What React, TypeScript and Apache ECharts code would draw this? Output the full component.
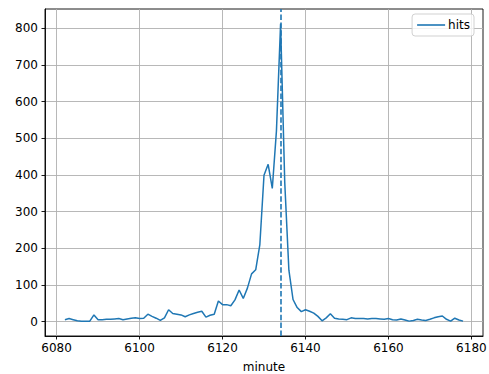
import React, { useEffect, useRef } from "react";
import * as echarts from "echarts";

const minutes = [
  6082, 6083, 6084, 6085, 6086, 6087, 6088, 6089, 6090, 6091, 6092, 6093, 6094, 6095, 6096, 6097, 6098, 6099,
  6100, 6101, 6102, 6103, 6104, 6105, 6106, 6107, 6108, 6109, 6110, 6111, 6112, 6113, 6114, 6115, 6116, 6117,
  6118, 6119, 6120, 6121, 6122, 6123, 6124, 6125, 6126, 6127, 6128, 6129, 6130, 6131, 6132, 6133, 6134, 6135,
  6136, 6137, 6138, 6139, 6140, 6141, 6142, 6143, 6144, 6145, 6146, 6147, 6148, 6149, 6150, 6151, 6152, 6153,
  6154, 6155, 6156, 6157, 6158, 6159, 6160, 6161, 6162, 6163, 6164, 6165, 6166, 6167, 6168, 6169, 6170, 6171,
  6172, 6173, 6174, 6175, 6176, 6177, 6178,
];

const hits = [
  5, 8, 5, 2, 1, 1, 1, 18, 5, 5, 6, 6, 7, 8, 5, 7, 9, 10,
  8, 9, 20, 14, 9, 3, 10, 32, 22, 20, 18, 13, 18, 22, 25, 28, 12, 17,
  20, 56, 46, 46, 43, 59, 86, 63, 91, 130, 141, 210, 399, 429, 363, 520, 812, 380,
  140, 60, 38, 27, 32, 28, 23, 14, 2, 10, 21, 9, 7, 6, 5, 10, 8, 8,
  8, 7, 8, 8, 7, 6, 8, 5, 4, 7, 4, 1, 3, 6, 4, 3, 6, 10,
  13, 15, 6, 1, 9, 4, 1,
];

const xTicks = [6080, 6100, 6120, 6140, 6160, 6180];
const yTicks = [0, 100, 200, 300, 400, 500, 600, 700, 800];
const markerMinute = 6134;
const seriesName = "hits";
const xLabel = "minute";

export default function App() {
  const ref = useRef<HTMLDivElement>(null);

  useEffect(() => {
    if (!ref.current) return;
    const chart = echarts.init(ref.current, undefined, { renderer: "svg" });
    const xmin0 = Math.min(...minutes);
    const xmax0 = Math.max(...minutes);
    const ymin0 = Math.min(...hits);
    const ymax0 = Math.max(...hits);
    const xm = (xmax0 - xmin0) * 0.05;
    const ym = (ymax0 - ymin0) * 0.05;
    const font = "DejaVu Sans";
    const blue = "#1f77b4";
    const fs = 12;

    chart.setOption({
      animation: false,
      textStyle: { fontFamily: font },
      grid: {
        left: 45,
        right: 6,
        top: 9,
        bottom: 38,
        containLabel: false,
        outerBoundsMode: "none",
        show: true,
        borderColor: "#000",
        borderWidth: 0.9,
        backgroundColor: "transparent",
      },
      legend: {
        right: 15,
        top: 14,
        data: [{ name: seriesName, icon: "rect" }],
        itemWidth: 28,
        itemHeight: 1.6,
        itemGap: 8,
        padding: [5, 4, 5, 5],
        borderColor: "#cccccc",
        borderWidth: 0.9,
        borderRadius: 3,
        backgroundColor: "rgba(255,255,255,0.8)",
        textStyle: { fontFamily: font, fontSize: fs, color: "#000", padding: [0, 0, 0, -2] },
      },
      xAxis: {
        type: "value",
        min: xmin0 - xm,
        max: xmax0 + xm,
        name: xLabel,
        nameLocation: "middle",
        nameGap: 25,
        nameTextStyle: { fontFamily: font, fontSize: fs, color: "#000" },
        axisLine: { show: true, onZero: false, lineStyle: { color: "#000", width: 0.9 } },
        axisTick: { show: true, length: 3.5, inside: false, customValues: xTicks, lineStyle: { color: "#000", width: 0.9 } },
        axisLabel: {
          customValues: xTicks,
          margin: 6,
          fontFamily: font,
          fontSize: fs,
          color: "#000",
          formatter: (v: number) => String(v),
        },
        splitLine: { show: true, lineStyle: { color: "#b0b0b0", width: 0.9 } },
      },
      yAxis: {
        type: "value",
        min: ymin0 - ym,
        max: ymax0 + ym,
        axisLine: { show: true, onZero: false, lineStyle: { color: "#000", width: 0.9 } },
        axisTick: { show: true, length: 3.5, inside: false, customValues: yTicks, lineStyle: { color: "#000", width: 0.9 } },
        axisLabel: {
          customValues: yTicks,
          margin: 7,
          fontFamily: font,
          fontSize: fs,
          color: "#000",
          formatter: (v: number) => String(v),
        },
        splitLine: { show: true, lineStyle: { color: "#b0b0b0", width: 0.9 } },
      },
      series: [
        {
          name: seriesName,
          type: "line",
          data: minutes.map((m, i) => [m, hits[i]]),
          showSymbol: false,
          symbol: "none",
          color: blue,
          lineStyle: { color: blue, width: 1.5 },
          markLine: {
            silent: true,
            symbol: ["none", "none"],
            label: { show: false },
            lineStyle: { color: blue, width: 1.6, type: [5.5, 2.4] },
            data: [{ xAxis: markerMinute }],
          },
        },
      ],
    });
    return () => chart.dispose();
  }, []);

  return (
    <div
      ref={ref}
      style={{ position: "fixed", left: 0, top: 0, width: 489, height: 374, background: "#fff" }}
    />
  );
}
